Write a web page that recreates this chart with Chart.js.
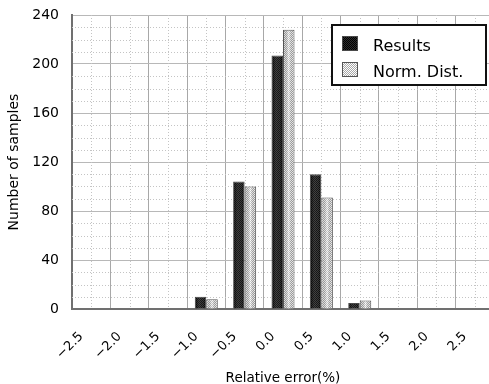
<!DOCTYPE html>
<html>
<head>
<meta charset="utf-8">
<script src="https://cdn.jsdelivr.net/npm/chart.js@4/dist/chart.umd.min.js"></script>
<style>
  html, body { margin: 0; padding: 0; background: #fff; overflow: hidden; }
  #wrap { width: 497px; height: 384px; }
</style>
</head>
<body>
<div id="wrap"><canvas id="chart" width="497" height="384"></canvas></div>
<script>
// relative error bins (%)
const errLabels = ["−2.5", "−2.0", "−1.5", "−1.0", "−0.5", "0.0", "0.5", "1.0", "1.5", "2.0", "2.5"];
// samples per bin, measured and normal distribution
const results = [0, 0, 0, 10, 104, 207, 110, 5, 0, 0, 0];
const normDist = [0, 0, 0, 8, 100, 228, 91, 7, 0, 0, 0];
const seriesNames = ["Results", "Norm. Dist."];
const yTicks = [0, 40, 80, 120, 160, 200, 240];

const canvas = document.getElementById("chart");
const ctx0 = canvas.getContext("2d");

// 2x2 checker to mimic the dithered bar fill
function checker(c1, c2) {
  const p = document.createElement("canvas");
  p.width = 2; p.height = 2;
  const g = p.getContext("2d");
  g.fillStyle = c1; g.fillRect(0, 0, 2, 2);
  g.fillStyle = c2; g.fillRect(1, 0, 1, 1); g.fillRect(0, 1, 1, 1);
  return ctx0.createPattern(p, "repeat");
}
const darkFill = checker("#000000", "#2c2c2c");
const lightFill = checker("#ffffff", "#a8a8a8");

// shading across each bar (the old "3D" look)
const shades = [
  [[0, "rgba(0,0,0,0.35)"], [0.6, "rgba(255,255,255,0.08)"], [1, "rgba(0,0,0,0.25)"]],
  [[0, "rgba(0,0,0,0.10)"], [0.5, "rgba(255,255,255,0.45)"], [1, "rgba(0,0,0,0.05)"]],
];

// dotted minor grid: every 10 on y, category centres on x
const minorGrid = {
  id: "minorGrid",
  beforeDatasetsDraw(chart) {
    const { ctx, chartArea: a, scales: { x, y } } = chart;
    ctx.save();
    ctx.setLineDash([1, 2]);
    ctx.strokeStyle = "#c4c4c4";
    ctx.lineWidth = 1;
    for (let v = 10; v < 240; v += 10) {
      if (v % 40 === 0) continue;
      const py = Math.round(y.getPixelForValue(v)) + 0.5;
      ctx.beginPath(); ctx.moveTo(a.left, py); ctx.lineTo(a.right, py); ctx.stroke();
    }
    errLabels.forEach((l, i) => {
      const px = Math.round(x.getPixelForValue(i)) + 0.5;
      ctx.beginPath(); ctx.moveTo(px, a.top); ctx.lineTo(px, a.bottom); ctx.stroke();
    });
    ctx.restore();
  }
};

const barShade = {
  id: "barShade",
  afterDatasetsDraw(chart) {
    const ctx = chart.ctx;
    ctx.save();
    chart.data.datasets.forEach((ds, i) => {
      chart.getDatasetMeta(i).data.forEach(el => {
        const { x, y, base, width } = el.getProps(["x", "y", "base", "width"], true);
        if (base - y < 2) return;
        const l = x - width / 2 + 1, r = x + width / 2 - 1;
        const g = ctx.createLinearGradient(l, 0, r, 0);
        shades[i].forEach(s => g.addColorStop(s[0], s[1]));
        ctx.fillStyle = g;
        ctx.fillRect(l, y + 1, r - l, base - y - 1);
      });
    });
    ctx.restore();
  }
};

// legend box in the upper right of the plot
const boxLegend = {
  id: "boxLegend",
  afterDraw(chart) {
    const { ctx, chartArea: a } = chart;
    const bx = a.right - 162, by = a.top + 10, bw = 154, bh = 60;
    ctx.save();
    ctx.fillStyle = "#fff";
    ctx.fillRect(bx, by, bw, bh);
    ctx.lineWidth = 2;
    ctx.strokeStyle = "#111";
    ctx.strokeRect(bx, by, bw, bh);
    chart.data.datasets.forEach((ds, i) => {
      const sy = by + 11 + i * 26;
      ctx.fillStyle = ds.backgroundColor;
      ctx.fillRect(bx + 10, sy, 16, 15);
      ctx.lineWidth = 1;
      ctx.strokeStyle = ds.borderColor;
      ctx.strokeRect(bx + 10.5, sy + 0.5, 15, 14);
      ctx.fillStyle = "#000";
      ctx.font = "16px 'DejaVu Sans'";
      ctx.textBaseline = "alphabetic";
      ctx.fillText(ds.label, bx + 41, sy + 15);
    });
    ctx.restore();
  }
};

new Chart(canvas, {
  type: "bar",
  data: {
    labels: errLabels,
    datasets: [
      {
        label: seriesNames[0],
        data: results,
        backgroundColor: darkFill,
        borderColor: "#4a4a4a",
        borderWidth: 1,
        categoryPercentage: 0.6,
        barPercentage: 1.0,
      },
      {
        label: seriesNames[1],
        data: normDist,
        backgroundColor: lightFill,
        borderColor: "#555",
        borderWidth: 1,
        categoryPercentage: 0.6,
        barPercentage: 1.0,
      },
    ],
  },
  options: {
    responsive: false,
    animation: false,
    devicePixelRatio: 1,
    layout: { padding: { top: 15, right: 3, left: 0, bottom: 0 } },
    plugins: {
      legend: { display: false },
      tooltip: { enabled: false },
    },
    scales: {
      x: {
        grid: { color: "#a8a8a8", drawTicks: false, offset: true },
        border: { color: "#707070", width: 2 },
        ticks: {
          color: "#000",
          font: { family: "DejaVu Sans", size: 13 },
          minRotation: 45,
          maxRotation: 45,
          padding: 20,
          labelOffset: -10,
        },
        title: {
          display: true,
          text: "Relative error(%)",
          color: "#000",
          font: { family: "DejaVu Sans", size: 13.5 },
          padding: { top: 0, bottom: -3 },
        },
        afterFit(scale) {
          scale.height = 75;
          scale.paddingLeft = 0;
          scale.paddingRight = 0;
        },
      },
      y: {
        min: 0,
        max: 240,
        grid: { color: "#b8b8b8", drawTicks: false },
        border: { color: "#707070", width: 2 },
        afterBuildTicks(scale) { scale.ticks = yTicks.map(v => ({ value: v })); },
        ticks: {
          color: "#000",
          font: { family: "DejaVu Sans", size: 14 },
          padding: 13,
        },
        title: {
          display: true,
          text: "Number of samples",
          color: "#000",
          font: { family: "DejaVu Sans", size: 14 },
          padding: { top: 6, bottom: 0 },
        },
        afterFit(scale) {
          scale.width = 72;
          scale.paddingTop = 0;
          scale.paddingBottom = 0;
        },
      },
    },
  },
  plugins: [minorGrid, barShade, boxLegend],
});
</script>
</body>
</html>
